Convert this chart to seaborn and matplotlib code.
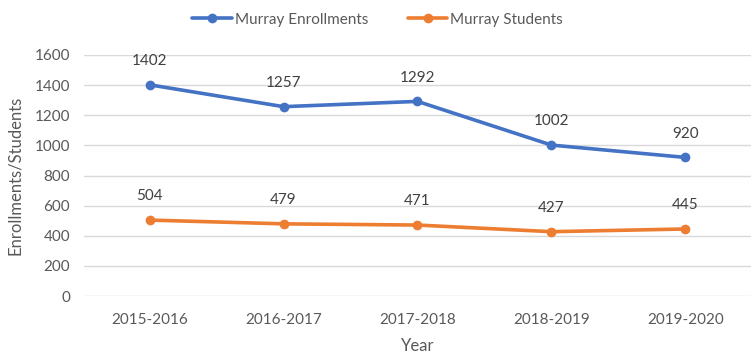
import matplotlib
matplotlib.use("Agg")
import matplotlib.pyplot as plt
import seaborn as sns
import pandas as pd

years = ["2015-2016", "2016-2017", "2017-2018", "2018-2019", "2019-2020"]
enrollments = [1402, 1257, 1292, 1002, 920]
students = [504, 479, 471, 427, 445]
series_names = ["Murray Enrollments", "Murray Students"]
colors = ["#4472C4", "#ED7D31"]
y_ticks = [0, 200, 400, 600, 800, 1000, 1200, 1400, 1600]

sns.set_style("white")
plt.rcParams["font.family"] = ["Lato", "DejaVu Sans"]
text_color = "#595959"

df = pd.DataFrame({
    "Year": years * 2,
    "Value": enrollments + students,
    "Series": [series_names[0]] * len(years) + [series_names[1]] * len(years),
})
df["x"] = df["Year"].map({y: i for i, y in enumerate(years)})

fig = plt.figure(figsize=(7.51, 3.57), dpi=100)
ax = fig.add_axes([84 / 751, 1 - 296 / 357, 667 / 751, 241 / 357])

sns.lineplot(data=df, x="x", y="Value", hue="Series", palette=colors,
             marker="o", markersize=7, markeredgewidth=0, linewidth=2.6,
             ax=ax, legend=True)

for vals, col in zip([enrollments, students], colors):
    for i, v in enumerate(vals):
        ax.annotate(f"{v}", (i, v), xytext=(0, 12), textcoords="offset points",
                    ha="center", va="bottom", fontsize=11, color="#404040")

ax.set_xlim(-0.49, 4.49)
ax.set_ylim(0, 1600)
ax.set_yticks(y_ticks)
ax.set_xticks(range(len(years)))
ax.set_xticklabels(years)
ax.yaxis.grid(True, color="#D9D9D9", linewidth=1)
ax.set_axisbelow(True)
for s in ax.spines.values():
    s.set_visible(False)
ax.tick_params(axis="both", length=0, labelsize=11, labelcolor=text_color)
ax.tick_params(axis="x", pad=12)
ax.tick_params(axis="y", pad=10)
ax.set_xlabel("Year", fontsize=12, color=text_color, labelpad=8)
ax.set_ylabel("Enrollments/Students", fontsize=12, color=text_color, labelpad=8)

leg = ax.legend(loc="lower center", bbox_to_anchor=(0.44, 1.06),
                ncol=2, frameon=False, fontsize=11, handlelength=2.6,
                columnspacing=2.6, handletextpad=0.2,
                bbox_transform=ax.transAxes)
for t in leg.get_texts():
    t.set_color(text_color)

fig.savefig("out.png", dpi=100)
